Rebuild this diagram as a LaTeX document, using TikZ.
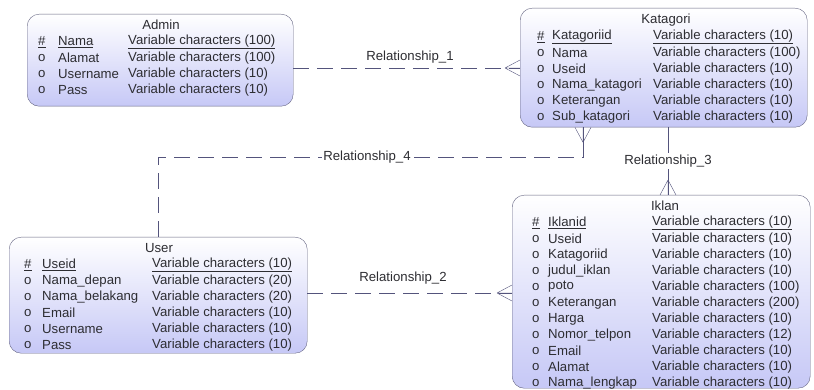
\documentclass[tikz,border=0pt]{standalone}
\usepackage{fontspec}
\setmainfont{Liberation Sans}
\usetikzlibrary{calc}
\definecolor{entline}{RGB}{100,100,130}
\definecolor{entfill}{RGB}{198,200,246}
\definecolor{relline}{RGB}{84,84,124}
\definecolor{txt}{RGB}{45,45,50}
\tikzset{
	entity/.style={draw=entline, rounded corners=12pt, top color=white, bottom color=entfill, anchor=north west, inner sep=0pt},
	attr/.style={anchor=west, inner sep=0pt, text=txt, font=\fontsize{13.2}{15}\selectfont},
	etitle/.style={inner sep=0pt, text=txt, font=\fontsize{13.2}{15}\selectfont},
	rel/.style={draw=relline, dash pattern=on 16pt off 8pt},
	foot/.style={draw=relline},
	rname/.style={inner sep=1.5pt, text=txt, font=\fontsize{13.2}{15}\selectfont},
	crow/.pic={\draw[foot] (-15,0) -- (0,-8) (-15,0) -- (0,0) (-15,0) -- (0,8);}
}

\begin{document}
\begin{tikzpicture}[x=1pt,y=-1pt]
	\useasboundingbox (0,0) rectangle (814,390);
	% entities
	\node[entity, minimum width=266, minimum height=92] (admin) at (27,14) {};
	\node[entity, minimum width=287, minimum height=119] (katagori) at (520,8) {};
	\node[entity, minimum width=298, minimum height=193] (iklan) at (512,195) {};
	\node[entity, minimum width=298, minimum height=116] (user) at (9,237) {};

	% Admin
	\node[etitle] (admin-t) at (161,25) {Admin};
	\node[attr] (admin-k) at (38,42) {\underline{\#}};
	\node[attr] (admin-kn) at (58,42) {\underline{Nama}};
	\node[attr] (admin-kt) at (128,42) {\underline{Variable characters (100)}};
	\foreach \n/\t [count=\i] in {Alamat/{Variable characters (100)},Username/{Variable characters (10)},Pass/{Variable characters (10)}}{
		\node[attr] (admin-o\i) at (38,42+16*\i) {o};
		\node[attr] (admin-n\i) at (58,42+16*\i) {\n};
		\node[attr] (admin-t\i) at (128,42+16*\i) {\t};
	}

	% Katagori
	\node[etitle] (katagori-t) at (666,20) {Katagori};
	\node[attr] (katagori-k) at (537,37) {\underline{\#}};
	\node[attr] (katagori-kn) at (552,37) {\underline{Katagoriid}};
	\node[attr] (katagori-kt) at (653,37) {\underline{Variable characters (10)}};
	\foreach \n/\t [count=\i] in {Nama/{Variable characters (100)},Useid/{Variable characters (10)},Nama\_katagori/{Variable characters (10)},Keterangan/{Variable characters (10)},Sub\_katagori/{Variable characters (10)}}{
		\node[attr] (katagori-o\i) at (537,37+16*\i) {o};
		\node[attr] (katagori-n\i) at (552,37+16*\i) {\n};
		\node[attr] (katagori-t\i) at (653,37+16*\i) {\t};
	}

	% Iklan
	\node[etitle] (iklan-t) at (665,206) {Iklan};
	\node[attr] (iklan-k) at (532,223) {\underline{\#}};
	\node[attr] (iklan-kn) at (548,223) {\underline{Iklanid}};
	\node[attr] (iklan-kt) at (652,223) {\underline{Variable characters (10)}};
	\foreach \n/\t [count=\i] in {Useid/{Variable characters (10)},Katagoriid/{Variable characters (10)},judul\_iklan/{Variable characters (10)},poto/{Variable characters (100)},Keterangan/{Variable characters (200)},Harga/{Variable characters (10)},Nomor\_telpon/{Variable characters (12)},Email/{Variable characters (10)},Alamat/{Variable characters (10)},Nama\_lengkap/{Variable characters (10)}}{
		\node[attr] (iklan-o\i) at (532,223+16*\i) {o};
		\node[attr] (iklan-n\i) at (548,223+16*\i) {\n};
		\node[attr] (iklan-t\i) at (652,223+16*\i) {\t};
	}

	% User
	\node[etitle] (user-t) at (159,248) {User};
	\node[attr] (user-k) at (24,265) {\underline{\#}};
	\node[attr] (user-kn) at (42,265) {\underline{Useid}};
	\node[attr] (user-kt) at (152,265) {\underline{Variable characters (10)}};
	\foreach \n/\t [count=\i] in {Nama\_depan/{Variable characters (20)},Nama\_belakang/{Variable characters (20)},Email/{Variable characters (10)},Username/{Variable characters (10)},Pass/{Variable characters (10)}}{
		\node[attr] (user-o\i) at (24,265+16*\i) {o};
		\node[attr] (user-n\i) at (42,265+16*\i) {\n};
		\node[attr] (user-t\i) at (152,265+16*\i) {\t};
	}

	% relationships
	\coordinate (bend4) at (583,157);
	\draw[rel] (admin.east |- 0,68) -- (katagori.west |- 0,68);
	\draw[rel] (user.east |- 0,293) -- (iklan.west |- 0,293);
	\draw[rel] (user.north) |- (bend4) -- ($(bend4 |- katagori.south)+(0,15)$);
	\draw[foot] ($(bend4 |- katagori.south)+(0,15)$) -- (bend4 |- katagori.south);
	\draw[foot] (katagori.south -| 668,0) -- (iklan.north -| 668,0);
	\pic at (katagori.west |- 0,68) {crow};
	\pic at (iklan.west |- 0,293) {crow};
	\pic[rotate=90] at (bend4 |- katagori.south) {crow};
	\pic[rotate=-90] at (iklan.north -| 668,0) {crow};
	\node[rname] (rel1) at (410,57) {Relationship\_1};
	\node[rname] (rel2) at (403,278) {Relationship\_2};
	\node[rname, fill=white] (rel3) at (668,161) {Relationship\_3};
	\node[rname, fill=white] (rel4) at (367,157) {Relationship\_4};
\end{tikzpicture}
\end{document}
